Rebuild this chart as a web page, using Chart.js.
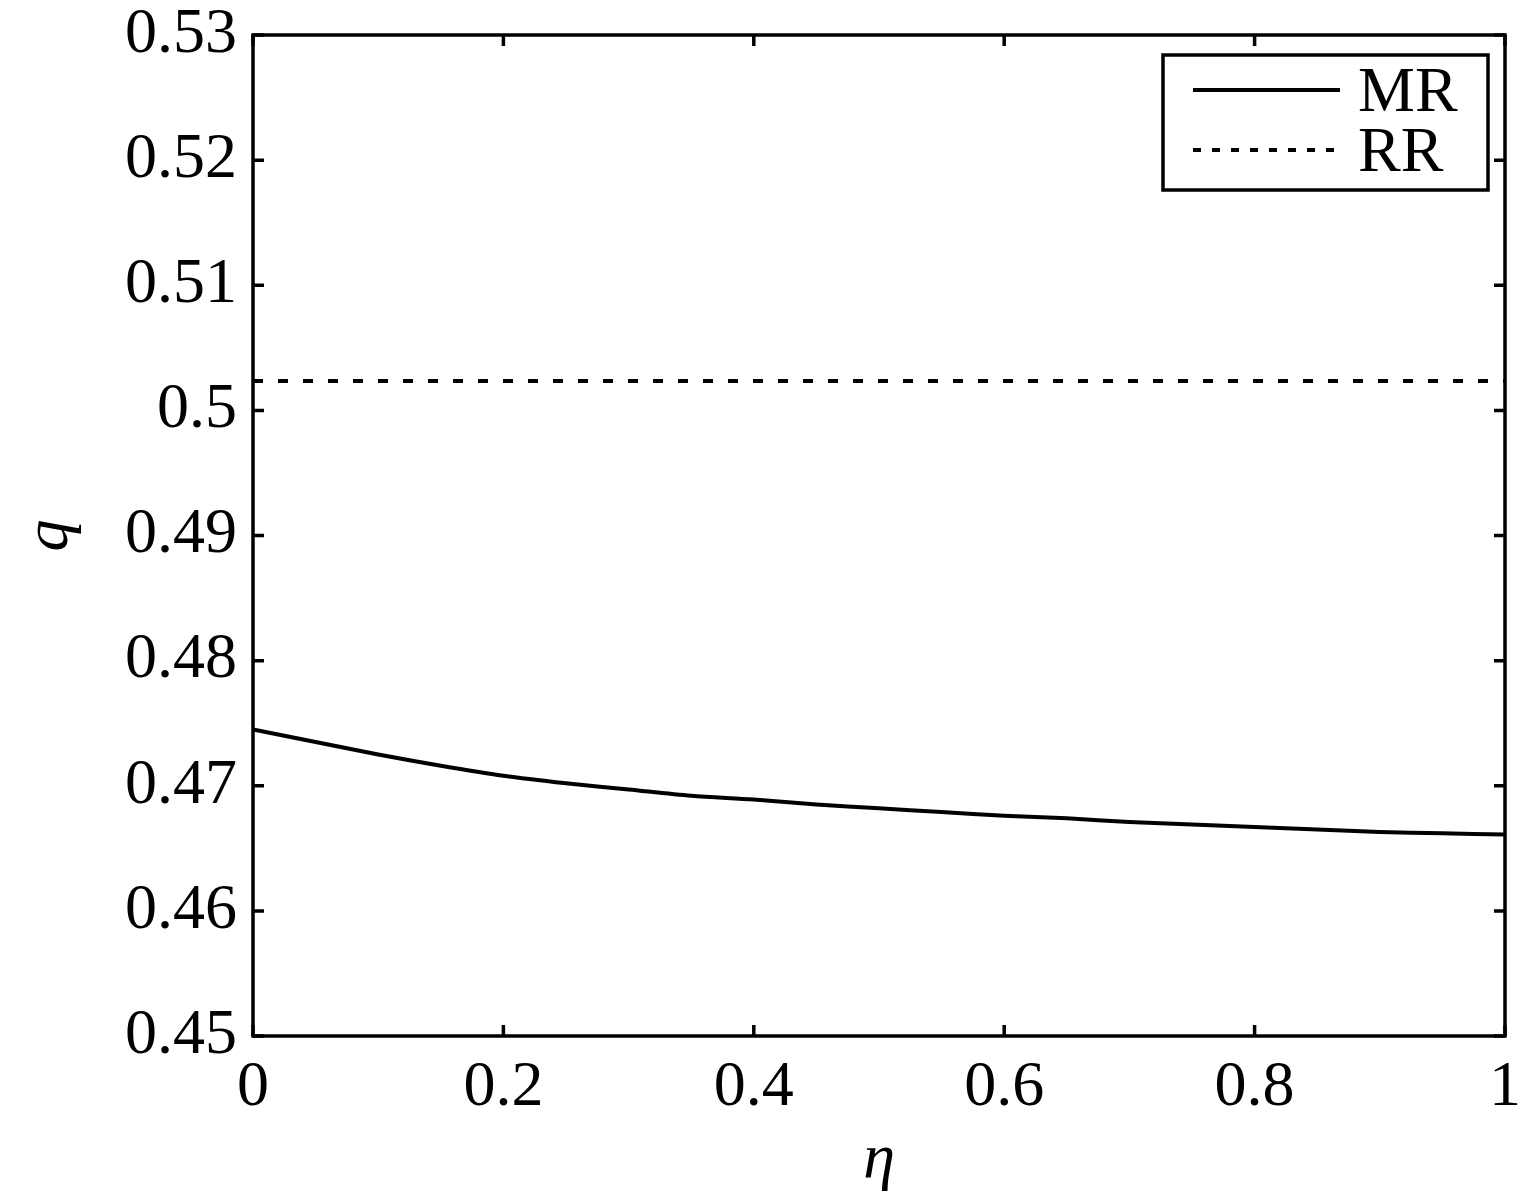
<!DOCTYPE html>
<html>
<head>
<meta charset="utf-8">
<script src="https://cdn.jsdelivr.net/npm/chart.js@4/dist/chart.umd.min.js"></script>
<style>
  html, body { margin: 0; padding: 0; background: #fff; }
  #wrap { width: 1522px; height: 1192px; }
</style>
</head>
<body>
<div id="wrap"><canvas id="chart"></canvas></div>
<script>
// eta values (x axis)
const eta = [0, 0.05, 0.1, 0.15, 0.2, 0.25, 0.3, 0.35, 0.4, 0.45, 0.5,
             0.55, 0.6, 0.65, 0.7, 0.75, 0.8, 0.85, 0.9, 0.95, 1];
// q for MR
const qMR = [0.4745, 0.4735, 0.4725, 0.4716, 0.4708, 0.4702, 0.4697, 0.4692, 0.4689, 0.4685, 0.4682,
             0.4679, 0.4676, 0.4674, 0.4671, 0.4669, 0.4667, 0.4665, 0.4663, 0.4662, 0.4661];
// q for RR (flat)
const qRR = [0.50235, 0.50235];
const etaRR = [0, 1];

const xTicks = [0, 0.2, 0.4, 0.6, 0.8, 1];
const yTicks = [0.45, 0.46, 0.47, 0.48, 0.49, 0.5, 0.51, 0.52, 0.53];

const FONT = "'Liberation Serif', 'DejaVu Serif', serif";

// inward ticks on all four sides + frame + boxed legend
const framePlugin = {
    id: 'frame',
    afterDraw(chart) {
        const { ctx, chartArea: a, scales } = chart;
        const len = 11;
        ctx.save();
        ctx.strokeStyle = '#000';
        ctx.lineWidth = 3.5;
        ctx.setLineDash([]);
        ctx.strokeRect(a.left, a.top, a.right - a.left, a.bottom - a.top);
        ctx.beginPath();
        xTicks.forEach(v => {
            const px = scales.x.getPixelForValue(v);
            ctx.moveTo(px, a.bottom); ctx.lineTo(px, a.bottom - len);
            ctx.moveTo(px, a.top); ctx.lineTo(px, a.top + len);
        });
        yTicks.forEach(v => {
            const py = scales.y.getPixelForValue(v);
            ctx.moveTo(a.left, py); ctx.lineTo(a.left + len, py);
            ctx.moveTo(a.right, py); ctx.lineTo(a.right - len, py);
        });
        ctx.stroke();

        // legend box
        const bx = 1163, by = 55, bw = 325, bh = 135;
        ctx.fillStyle = '#fff';
        ctx.fillRect(bx, by, bw, bh);
        ctx.strokeRect(bx, by, bw, bh);
        ctx.font = '64px ' + FONT;
        ctx.textBaseline = 'middle';
        ctx.textAlign = 'left';
        ctx.fillStyle = '#000';
        chart.data.datasets.forEach((ds, i) => {
            const y = by + 35 + i * 60;
            ctx.beginPath();
            ctx.lineWidth = ds.borderWidth;
            ctx.setLineDash(i === 1 ? [8, 11] : []);
            ctx.moveTo(bx + 30, y);
            ctx.lineTo(bx + 177, y);
            ctx.stroke();
            ctx.fillText(ds.label, bx + 195, y + 4);
        });
        ctx.restore();
    }
};

new Chart(document.getElementById('chart'), {
    type: 'line',
    data: {
        datasets: [
            {
                label: 'MR',
                data: eta.map((x, i) => ({ x: x, y: qMR[i] })),
                borderColor: '#000',
                borderWidth: 4,
                pointRadius: 0,
                tension: 0.3,
                fill: false
            },
            {
                label: 'RR',
                data: etaRR.map((x, i) => ({ x: x, y: qRR[i] })),
                borderColor: '#000',
                borderWidth: 4,
                borderDash: [10, 15],
                pointRadius: 0,
                fill: false
            }
        ]
    },
    options: {
        responsive: true,
        maintainAspectRatio: false,
        animation: false,
        layout: { padding: { left: 0, top: 35, right: 17, bottom: 0 } },
        plugins: {
            legend: { display: false },
            tooltip: { enabled: false }
        },
        scales: {
            x: {
                type: 'linear',
                min: 0,
                max: 1,
                afterFit: s => { s.height = 156; s.paddingLeft = 0; s.paddingRight = 0; },
                afterBuildTicks: s => { s.ticks = xTicks.map(v => ({ value: v })); },
                grid: { display: false, drawTicks: false },
                border: { display: false },
                ticks: {
                    padding: 14,
                    color: '#000',
                    font: { family: FONT, size: 64 },
                    maxRotation: 0,
                    autoSkip: false,
                    callback: v => String(Number(v.toFixed(2)))
                },
                title: {
                    display: true,
                    text: 'η',
                    color: '#000',
                    font: { family: FONT, size: 64, style: 'italic', lineHeight: 1 },
                    padding: 0
                }
            },
            y: {
                type: 'linear',
                min: 0.45,
                max: 0.53,
                afterFit: s => { s.width = 253; s.paddingTop = 0; s.paddingBottom = 0; },
                afterBuildTicks: s => { s.ticks = yTicks.map(v => ({ value: v })); },
                grid: { display: false, drawTicks: false },
                border: { display: false },
                ticks: {
                    padding: 16,
                    color: '#000',
                    font: { family: FONT, size: 64 },
                    autoSkip: false,
                    callback: v => String(Number(v.toFixed(2)))
                },
                title: {
                    display: true,
                    text: 'q',
                    color: '#000',
                    font: { family: FONT, size: 64, style: 'italic', lineHeight: 1 },
                    padding: { top: 18, bottom: 0 }
                }
            }
        }
    },
    plugins: [framePlugin]
});
</script>
</body>
</html>
